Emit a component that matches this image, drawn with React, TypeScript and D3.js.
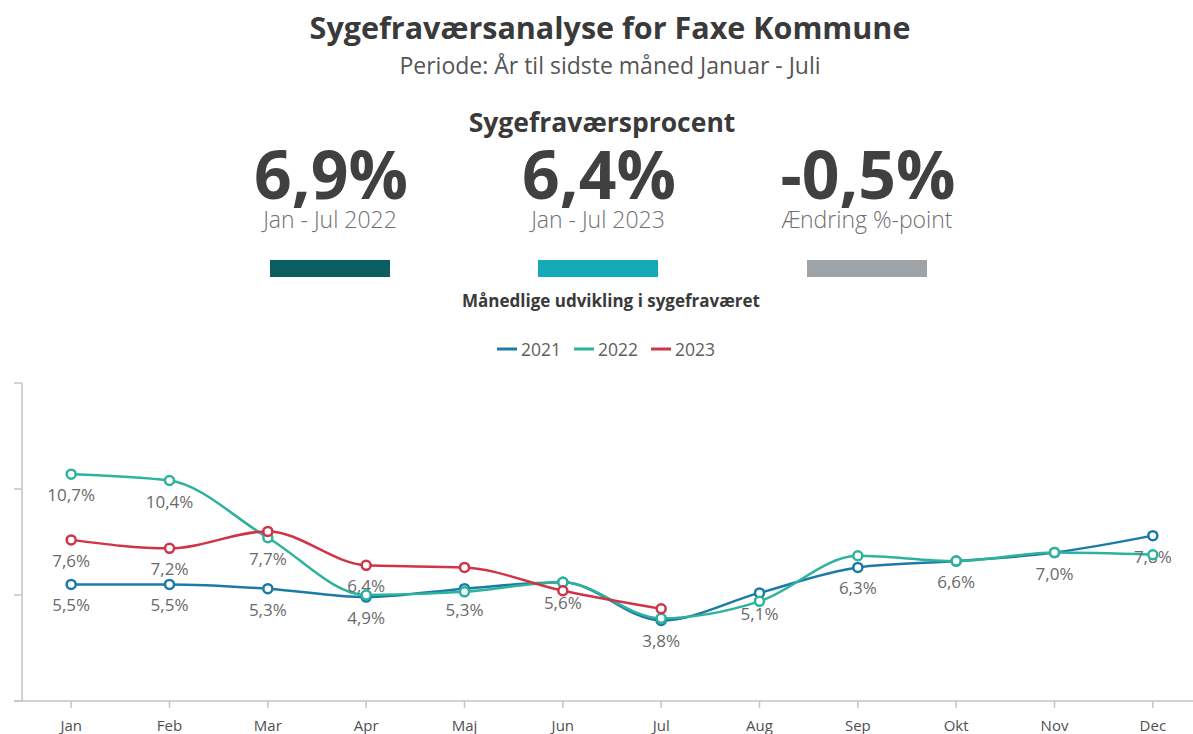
import React from 'react';
import * as d3 from 'd3';

const months = ['Jan', 'Feb', 'Mar', 'Apr', 'Maj', 'Jun', 'Jul', 'Aug', 'Sep', 'Okt', 'Nov', 'Dec'];

const values2021 = [5.5, 5.5, 5.3, 4.9, 5.3, 5.6, 3.8, 5.1, 6.3, 6.6, 7.0, 7.8];
const values2022 = [10.7, 10.4, 7.7, 5.0, 5.15, 5.6, 3.9, 4.7, 6.85, 6.6, 7.0, 6.9];
const values2023 = [7.6, 7.2, 8.0, 6.4, 6.3, 5.2, 4.35];

// which points show a data label (Power BI hides the ones that collide)
const labels2021 = [true, true, true, true, true, true, true, true, true, true, true, true];
const labels2022 = [true, true, true, false, false, false, false, false, false, false, false, false];
const labels2023 = [true, true, false, true, false, false, false];

const yTicks = [0, 5, 10, 15];

const kpiValues = ['6,9%', '6,4%', '-0,5%'];
const kpiLabels = ['Jan - Jul 2022', 'Jan - Jul 2023', 'Ændring %-point'];
const kpiColors = ['#0b5e60', '#14aab8', '#9ea3a8'];

const series = [
  { name: '2021', values: values2021, labels: labels2021, color: '#1c7aa6' },
  { name: '2022', values: values2022, labels: labels2022, color: '#2bb39c' },
  { name: '2023', values: values2023, labels: labels2023, color: '#cf3449' },
];

const W = 1193;
const H = 734;
const font = "'Open Sans', 'Noto Sans', sans-serif";

export default function App() {
  const x = d3.scalePoint<string>().domain(months).range([22, 1202]).padding(0.5);
  const y = d3.scaleLinear().domain([0, 15]).range([701, 383]);

  const fmt = (v: number) => v.toFixed(1).replace('.', ',') + '%';

  const line = d3
    .line<number>()
    .x((d, i) => x(months[i]) as number)
    .y((d) => y(d))
    .curve(d3.curveMonotoneX);

  const kpiX = [331, 599, 868];

  return (
    <svg width={W} height={H} style={{ position: 'absolute', left: 0, top: 0, background: '#fff' }} fontFamily={font}>
      <rect width={W} height={H} fill="#fff" />
      <text x={610} y={39} textAnchor="middle" fontSize={30.5} fontWeight={700} fill="#3a3a3a">
        Sygefraværsanalyse for Faxe Kommune
      </text>
      <text x={610} y={74} textAnchor="middle" fontSize={23} fill="#555">
        Periode: År til sidste måned Januar - Juli
      </text>
      <text x={602} y={132} textAnchor="middle" fontSize={26.5} fontWeight={700} fill="#3a3a3a">
        Sygefraværsprocent
      </text>

      {kpiValues.map((v, i) => (
        <g key={v}>
          <text x={kpiX[i]} y={199} textAnchor="middle" fontSize={66} fontWeight={700} fill="#404040">
            {v}
          </text>
          <text x={kpiX[i] - 1} y={228} textAnchor="middle" fontSize={23} fontWeight={300} fill="#707070">
            {kpiLabels[i]}
          </text>
          <rect x={kpiX[i] - 61} y={260} width={120} height={17} fill={kpiColors[i]} />
        </g>
      ))}

      <text x={611} y={307} textAnchor="middle" fontSize={17} fontWeight={700} fill="#3a3a3a">
        Månedlige udvikling i sygefraværet
      </text>

      {series.map((s, i) => {
        const lx = 497 + i * 77;
        return (
          <g key={s.name}>
            <line x1={lx} x2={lx + 20} y1={349} y2={349} stroke={s.color} strokeWidth={3} />
            <text x={lx + 24} y={355.5} fontSize={17.5} fill="#606060">
              {s.name}
            </text>
          </g>
        );
      })}

      {/* axes */}
      <line x1={22} x2={22} y1={383} y2={701} stroke="#c4c4c4" strokeWidth={1.5} />
      {yTicks.map((t) => (
        <line key={t} x1={14} x2={22} y1={y(t)} y2={y(t)} stroke="#c4c4c4" strokeWidth={1.5} />
      ))}
      <line x1={14} x2={W} y1={701} y2={701} stroke="#c4c4c4" strokeWidth={1.5} />
      {months.map((m) => (
        <g key={m}>
          <line x1={x(m)} x2={x(m)} y1={701} y2={708} stroke="#c4c4c4" strokeWidth={1.5} />
          <text x={x(m)} y={731} textAnchor="middle" fontSize={15} fill="#505050">
            {m}
          </text>
        </g>
      ))}

      {/* lines */}
      {series.map((s) => (
        <path key={s.name} d={line(s.values) || ''} fill="none" stroke={s.color} strokeWidth={2.5} />
      ))}

      {/* data labels */}
      {series.map((s) =>
        s.values.map((v, i) =>
          s.labels[i] ? (
            <text
              key={s.name + i}
              x={x(months[i])}
              y={y(v) + 27}
              textAnchor="middle"
              fontSize={17}
              fill="#6a6a6a"
            >
              {fmt(v)}
            </text>
          ) : null
        )
      )}

      {/* markers */}
      {series.map((s) =>
        s.values.map((v, i) => (
          <circle
            key={s.name + 'c' + i}
            cx={x(months[i])}
            cy={y(v)}
            r={4.5}
            fill="#fff"
            stroke={s.color}
            strokeWidth={2.5}
          />
        ))
      )}
    </svg>
  );
}
